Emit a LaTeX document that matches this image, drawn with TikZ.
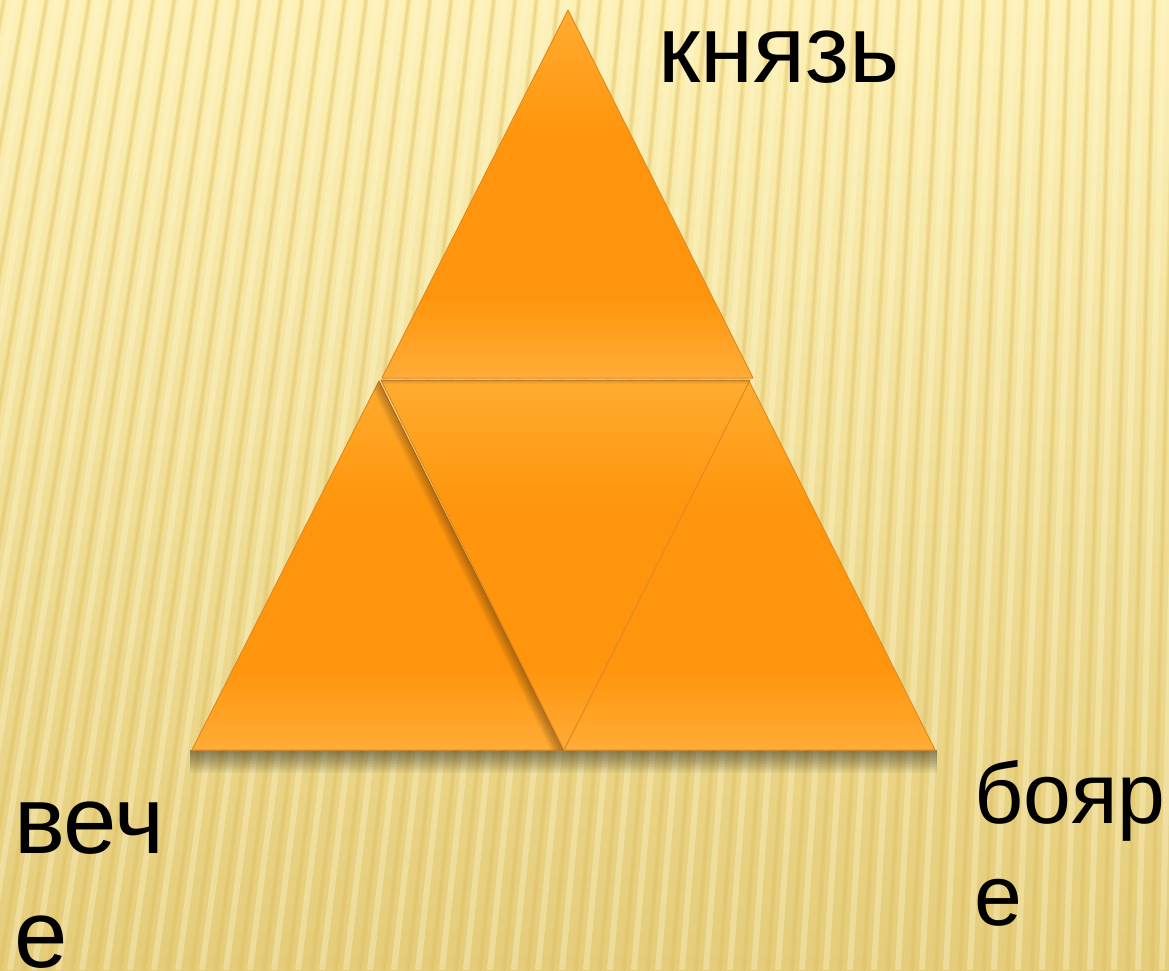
\documentclass[tikz,border=0pt]{standalone}
\usepackage{fontspec}
\setmainfont{Liberation Sans}
\definecolor{bgtop}{HTML}{FDF1B6}
\definecolor{bgbot}{HTML}{E4CC7A}
\definecolor{stripe}{HTML}{E0C060}
\definecolor{stripel}{HTML}{FFF8D2}
\definecolor{ortop}{HTML}{FFAC30}
\definecolor{ormid}{HTML}{FF950C}
\definecolor{orbot}{HTML}{FFAC38}
\definecolor{edgeor}{HTML}{E08A20}
\pgfdeclareverticalshading{orsh}{100bp}{color(0bp)=(orbot); color(25bp)=(orbot); color(36bp)=(ormid); color(58bp)=(ormid); color(75bp)=(ortop); color(100bp)=(ortop)}
\begin{document}
\begin{tikzpicture}[x=1pt,y=-1pt,
  tri/.style={shading=orsh},
  edge/.style={draw=edgeor, line width=1pt, line join=round},
  lbl/.style={anchor=base west, inner sep=0pt, outer sep=0pt, font=\fontsize{96}{110}\selectfont, text=black},
  lbls/.style={lbl, font=\fontsize{86}{100}\selectfont}]
% background
\useasboundingbox (0,0) rectangle (1169,970);
\shade[top color=bgtop, bottom color=bgbot] (0,0) rectangle (1169,970);
\begin{scope}
\clip (0,0) rectangle (1169,970);
\foreach \x in {-240,-216,...,1190} {
  \pgfmathsetmacro{\sh}{180*(1-(\x+240)/1600)}
  \draw[stripe, line width=5pt, opacity=0.28] (\x+\sh,0) -- (\x,970);
  \draw[stripe, line width=2pt, opacity=0.3] (\x+\sh,0) -- (\x,970);
  \draw[stripel, line width=6pt, opacity=0.35] (\x+\sh+10,0) -- (\x+10,970);
}
\end{scope}
% coordinates
\coordinate (A) at (568,10);
\coordinate (B) at (382,378);
\coordinate (C) at (753,378);
\coordinate (D) at (379,381);
\coordinate (E) at (192,750);
\coordinate (F) at (564,750);
\coordinate (G) at (381,380);
\coordinate (H) at (750,380);
\coordinate (I) at (564,750);
\coordinate (J) at (749,381);
\coordinate (K) at (564,750);
\coordinate (L) at (935,750);
% base shadow
\foreach \i in {0,...,11} {
  \fill[black, opacity=0.045] (190,750) rectangle (937,751+2*\i);
}
% bottom-left and bottom-right triangles
\shade[tri] (D) -- (E) -- (F) -- cycle;
\shade[tri] (J) -- (K) -- (L) -- cycle;
\draw[edge] (D) -- (E) -- (F) -- cycle;
\draw[edge] (J) -- (K) -- (L) -- cycle;
% soft shadow of middle triangle on left one
\begin{scope}
\clip (D) -- (E) -- (F) -- cycle;
\foreach \i in {1,...,12} {
  \draw[black!80!brown, opacity=0.035, line width=2*\i pt] (G) -- (I);
}
\end{scope}
% middle inverted triangle
\shade[tri] (G) -- (H) -- (I) -- cycle;
\draw[edge] (G) -- (H) -- (I) -- cycle;
% shadow of top triangle on middle one
\begin{scope}
\clip (G) -- (H) -- (I) -- cycle;
\foreach \i in {1,...,6} {
  \draw[black, opacity=0.04, line width=2*\i pt] (370,378) -- (760,378);
}
\end{scope}
% top triangle
\shade[tri] (A) -- (B) -- (C) -- cycle;
\draw[edge] (A) -- (B) -- (C) -- cycle;
% labels
\node[lbl] (knyaz) at (658,82) {князь};
\node[lbl] (veche1) at (14,853) {веч};
\node[lbl] (veche2) at (14,967) {е};
\node[lbls] (boyare1) at (974,823) {бояр};
\node[lbls] (boyare2) at (974,925) {е};
\end{tikzpicture}
\end{document}
